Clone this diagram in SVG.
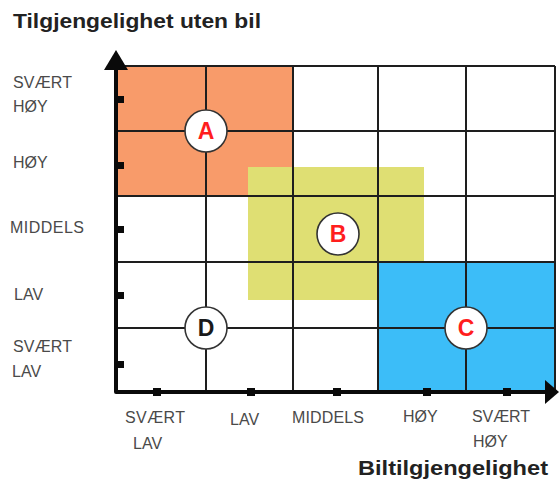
<svg xmlns="http://www.w3.org/2000/svg" width="560" height="482" viewBox="0 0 560 482">
  <style>
    .grid { stroke: #1e1e1e; stroke-width: 2; fill: none; }
    .axis { stroke: #0a0a0a; stroke-width: 4; fill: none; stroke-linejoin: round; }
    .tick { fill: #0a0a0a; }
    .lbl { font-family: "Liberation Sans", Arial, sans-serif; font-size: 16px; fill: #4a4a4a; }
    .title { font-family: "Liberation Sans", Arial, sans-serif; font-size: 21px; font-weight: bold; fill: #222222; }
    .mark { fill: #ffffff; stroke: #333333; stroke-width: 1.6; }
    .letter { font-family: "Liberation Sans", Arial, sans-serif; font-size: 23px; font-weight: bold; text-anchor: middle; }
  </style>

  <rect width="560" height="482" fill="#ffffff"/>

  <!-- shaded zones -->
  <g id="zones">
    <rect id="zone-a" x="116" y="65" width="177" height="131" fill="#F89B6A"/>
    <rect id="zone-b" x="248" y="167" width="176" height="133" fill="#DFDF73"/>
    <rect id="zone-c" x="378" y="262" width="177" height="130" fill="#3CBDF8"/>
  </g>

  <!-- grid -->
  <g id="grid" class="grid">
    <line x1="116" y1="66" x2="555" y2="66"/>
    <line x1="116" y1="131" x2="555" y2="131"/>
    <line x1="116" y1="196" x2="555" y2="196"/>
    <line x1="116" y1="262" x2="555" y2="262"/>
    <line x1="116" y1="328" x2="555" y2="328"/>
    <line x1="206" y1="66" x2="206" y2="392"/>
    <line x1="293" y1="66" x2="293" y2="392"/>
    <line x1="378" y1="66" x2="378" y2="392"/>
    <line x1="466" y1="66" x2="466" y2="392"/>
    <line x1="555" y1="66" x2="555" y2="392"/>
  </g>

  <!-- axes -->
  <g id="connectors">
    <path class="axis" d="M116 68 V392 H548"/>
    <polygon points="116,50 104,70 128,70" fill="#0a0a0a"/>
    <polygon points="559,392 545,380 545,404" fill="#0a0a0a"/>
    <g class="tick">
      <rect x="116" y="96" width="8" height="7"/>
      <rect x="116" y="162" width="8" height="7"/>
      <rect x="116" y="226" width="8" height="7"/>
      <rect x="116" y="292" width="8" height="7"/>
      <rect x="116" y="361" width="8" height="7"/>
      <rect x="153" y="388" width="8" height="8"/>
      <rect x="247" y="388" width="8" height="8"/>
      <rect x="333" y="388" width="8" height="8"/>
      <rect x="423" y="388" width="8" height="8"/>
      <rect x="503" y="388" width="8" height="8"/>
    </g>
  </g>

  <!-- markers -->
  <g id="node-a">
    <circle class="mark" cx="206" cy="131" r="21"/>
    <text class="letter" x="206" y="139" fill="#FF1E1E">A</text>
  </g>
  <g id="node-b">
    <circle class="mark" cx="338" cy="234" r="21"/>
    <text class="letter" x="338" y="242" fill="#FF1E1E">B</text>
  </g>
  <g id="node-c">
    <circle class="mark" cx="466" cy="328" r="21"/>
    <text class="letter" x="466" y="336" fill="#FF1E1E">C</text>
  </g>
  <g id="node-d">
    <circle class="mark" cx="206" cy="328" r="21"/>
    <text class="letter" x="206" y="336" fill="#1a1a1a">D</text>
  </g>

  <!-- titles -->
  <text class="title" x="13" y="28" textLength="248" lengthAdjust="spacingAndGlyphs">Tilgjengelighet uten bil</text>
  <text class="title" x="358" y="475" textLength="190" lengthAdjust="spacingAndGlyphs">Biltilgjengelighet</text>

  <!-- vertical axis labels -->
  <g id="y-labels" class="lbl">
    <text x="13" y="88" textLength="59">SVÆRT</text>
    <text x="13" y="112">HØY</text>
    <text x="13" y="168">HØY</text>
    <text x="10" y="233" textLength="74">MIDDELS</text>
    <text x="14" y="300">LAV</text>
    <text x="13" y="352" textLength="59">SVÆRT</text>
    <text x="12" y="377">LAV</text>
  </g>

  <!-- horizontal axis labels -->
  <g id="x-labels" class="lbl">
    <text x="125" y="423" textLength="60">SVÆRT</text>
    <text x="133" y="449">LAV</text>
    <text x="230" y="425">LAV</text>
    <text x="292" y="423" textLength="72">MIDDELS</text>
    <text x="403" y="422">HØY</text>
    <text x="472" y="422" textLength="58">SVÆRT</text>
    <text x="473" y="447">HØY</text>
  </g>
</svg>
